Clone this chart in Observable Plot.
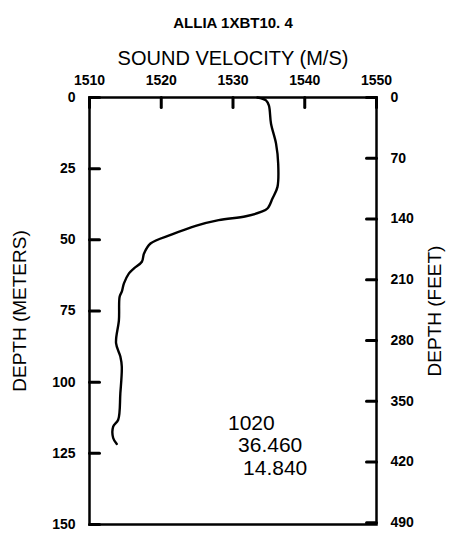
<!DOCTYPE html>
<html>
<head>
<meta charset="utf-8">
<script src="https://cdn.jsdelivr.net/npm/d3@7"></script>
<script src="https://cdn.jsdelivr.net/npm/@observablehq/plot@0.6"></script>
<style>
  html, body { margin: 0; padding: 0; background: #fff; }
</style>
</head>
<body>
<div id="chart"></div>
<script>
const titleText = "ALLIA 1XBT10. 4";
const xLabel = "SOUND VELOCITY (M/S)";
const yLabelLeft = "DEPTH (METERS)";
const yLabelRight = "DEPTH (FEET)";

const velocityTicks = [1510, 1520, 1530, 1540, 1550];
const depthTicks = [0, 25, 50, 75, 100, 125, 150];
const feetTicks = [0, 70, 140, 210, 280, 350, 420, 490];

const depth = [0, 1, 2.8, 9.2, 16.2, 23.3, 31.4, 35.5, 39.0, 40.2, 41.7, 43.1, 45.1, 48.1, 51.3, 54.8, 57.7, 60.0, 61.8, 65.3, 68.2, 70.0, 78.2, 86.3, 91.0, 94.5, 103.9, 113.2, 115.6, 119.6, 121.7];
const velocity = [1533.4, 1534.6, 1535.0, 1535.3, 1536.0, 1536.3, 1536.2, 1535.5, 1534.8, 1533.9, 1531.8, 1528.0, 1524.8, 1521.5, 1518.5, 1517.6, 1517.3, 1516.2, 1515.5, 1514.8, 1514.5, 1514.2, 1514.1, 1513.7, 1514.3, 1514.5, 1514.3, 1514.0, 1513.3, 1513.3, 1513.8];

const noteText = ["1020", "36.460", "14.840"];
const noteVelocity = [1529.3, 1530.7, 1531.4];
const noteDepth = [114.3, 122.3, 130.4];

const M_PER_FT = 0.3048;
const profile = depth.map((d, i) => ({depth: d, velocity: velocity[i]}));
const notes = noteText.map((t, i) => ({text: t, velocity: noteVelocity[i], depth: noteDepth[i]}));
const feetInMeters = feetTicks.map(f => f * M_PER_FT);

const FONT = "'Liberation Sans', Arial, sans-serif";
const W = 453, H = 537, ML = 89, MR = 77, MT = 97, MB = 13;
const frameW = W - ML - MR, frameH = H - MT - MB;
const xDomain = [1510, 1550], yDomain = [0, 150];
const TICK = 10;
const tickLenX = TICK * (xDomain[1] - xDomain[0]) / frameW;
const tickLenY = TICK * (yDomain[1] - yDomain[0]) / frameH;

// inward tick segments, each as a two-point polyline
const tickSegments = [
  ...velocityTicks.flatMap((v, i) => [
    {id: "top" + i, x: v, y: yDomain[0]},
    {id: "top" + i, x: v, y: yDomain[0] + tickLenY}
  ]),
  ...depthTicks.flatMap((d, i) => [
    {id: "left" + i, x: xDomain[0], y: d},
    {id: "left" + i, x: xDomain[0] + tickLenX, y: d}
  ]),
  ...feetInMeters.flatMap((d, i) => [
    {id: "right" + i, x: xDomain[1] - tickLenX, y: d},
    {id: "right" + i, x: xDomain[1], y: d}
  ])
];

const chart = Plot.plot({
  width: W,
  height: H,
  marginLeft: ML,
  marginRight: MR,
  marginTop: MT,
  marginBottom: MB,
  style: {fontFamily: FONT, color: "#000", background: "#fff"},
  x: {domain: xDomain},
  y: {domain: yDomain, reverse: true},
  marks: [
    Plot.frame({strokeWidth: 2.5}),
    Plot.axisX({anchor: "top", ticks: velocityTicks, tickFormat: d => String(d), tickSize: 0, tickPadding: 13, fontSize: 14, fontWeight: "bold", label: null}),
    Plot.axisY({anchor: "left", ticks: depthTicks, tickFormat: d => String(d), tickSize: 0, tickPadding: 14, fontSize: 14, fontWeight: "bold", label: null}),
    Plot.axisY({anchor: "right", ticks: feetInMeters, tickFormat: d => String(Math.round(d / M_PER_FT)), tickSize: 0, tickPadding: 14, fontSize: 14, fontWeight: "bold", label: null}),
    Plot.line(tickSegments, {x: "x", y: "y", z: "id", curve: "linear", stroke: "#000", strokeWidth: 3}),
    Plot.line(profile, {x: "velocity", y: "depth", curve: "catmull-rom", strokeWidth: 2.4, stroke: "#000"}),
    Plot.text(notes, {x: "velocity", y: "depth", text: "text", textAnchor: "start", fontSize: 21, fill: "#000"}),
    Plot.text([titleText], {frameAnchor: "top", dy: -80, fontSize: 15, fontWeight: "bold", fill: "#000"}),
    Plot.text([xLabel], {frameAnchor: "top", dy: -47, fontSize: 20, fill: "#000"}),
    Plot.text([yLabelLeft], {frameAnchor: "left", textAnchor: "middle", dx: -70, rotate: -90, fontSize: 19, fill: "#000"}),
    Plot.text([yLabelRight], {frameAnchor: "right", textAnchor: "middle", dx: 58, rotate: -90, fontSize: 19, fill: "#000"})
  ]
});
document.getElementById("chart").appendChild(chart);
</script>
</body>
</html>
